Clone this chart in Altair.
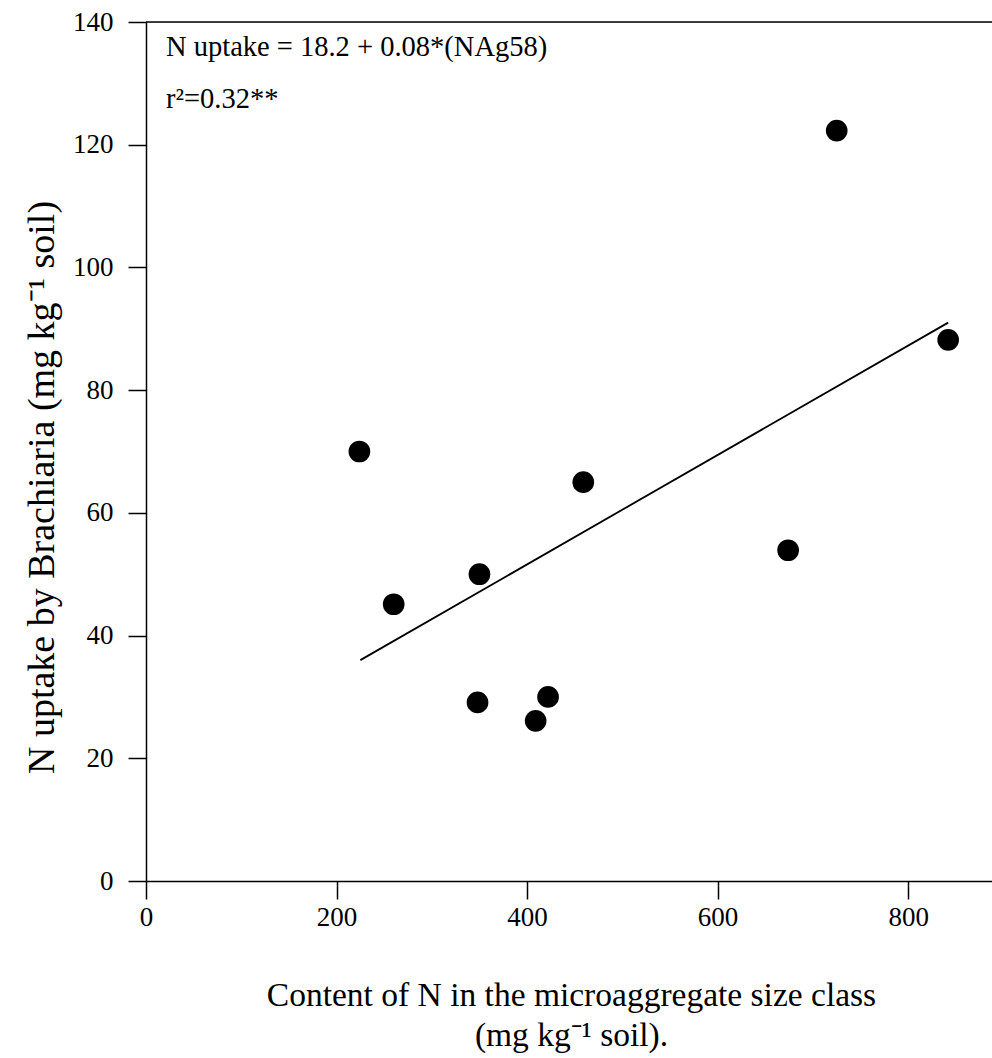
import altair as alt
import pandas as pd

# Data
n_content = [224, 260, 348, 350, 409, 422, 459, 674, 725, 842]
n_uptake = [70.0, 45.1, 29.1, 50.0, 26.1, 30.0, 65.0, 53.9, 122.3, 88.2]

fit_x = [225, 842]
fit_y = [36.0, 91.0]

x_ticks = [0, 200, 400, 600, 800]
y_ticks = [0, 20, 40, 60, 80, 100, 120, 140]

eq_text = "N uptake = 18.2 + 0.08*(NAg58)"
r2_text = "r²=0.32**"

W, H = 846, 859
FONT = "Liberation Serif"

pts = pd.DataFrame({"x": n_content, "y": n_uptake})
fit = pd.DataFrame({"x": fit_x, "y": fit_y})

xscale = alt.Scale(domain=[0, 888], nice=False, zero=False)
yscale = alt.Scale(domain=[0, 140], nice=False)

xaxis = alt.Axis(
    values=x_ticks, grid=False, tickSize=18, tickWidth=1.5, tickColor="black",
    domainColor="black", domainWidth=1.5, labelFont=FONT, labelFontSize=27,
    labelColor="black", labelPadding=5, labelFlush=False,
    title=["Content of N in the microaggregate size class", "(mg kg⁻¹ soil)."],
    titleFont=FONT, titleFontSize=33.5, titleFontWeight="normal", titleColor="black",
    titleX=425, titleY=98, titleBaseline="top", titleAlign="center",
    titleLineHeight=40,
)
yaxis = alt.Axis(
    values=y_ticks, grid=False, tickSize=18, tickWidth=1.5, tickColor="black",
    domainColor="black", domainWidth=1.5, labelFont=FONT, labelFontSize=27,
    labelColor="black", labelPadding=15, labelFlush=False,
    title="N uptake by Brachiaria (mg kg⁻¹ soil)",
    titleFont=FONT, titleFontSize=38, titleFontWeight="normal", titleColor="black",
    titleAngle=-90, titleX=-104, titleY=465, titleBaseline="middle", titleAlign="center",
)

points = alt.Chart(pts).mark_circle(size=470, color="black", opacity=1).encode(
    x=alt.X("x:Q", scale=xscale, axis=xaxis),
    y=alt.Y("y:Q", scale=yscale, axis=yaxis),
)

line = alt.Chart(fit).mark_line(color="black", strokeWidth=1.8).encode(
    x=alt.X("x:Q", scale=xscale),
    y=alt.Y("y:Q", scale=yscale),
)

top_border = alt.Chart(pd.DataFrame({"a": [0]})).mark_rule(color="black", strokeWidth=1.5).encode(
    x=alt.value(0), x2=alt.value(W), y=alt.value(0)
)

eq_chart = alt.Chart(pd.DataFrame({"t": [eq_text]})).mark_text(
    font=FONT, fontSize=28.5, color="black", align="left", baseline="alphabetic"
).encode(x=alt.value(20), y=alt.value(34), text="t:N")

r2_chart = alt.Chart(pd.DataFrame({"t": [r2_text]})).mark_text(
    font=FONT, fontSize=28.5, color="black", align="left", baseline="alphabetic"
).encode(x=alt.value(20), y=alt.value(86), text="t:N")

chart = alt.layer(line, points, top_border, eq_chart, r2_chart).properties(
    width=W, height=H,
    autosize=alt.AutoSizeParams(type="none"),
    padding={"left": 146, "top": 22, "right": 0, "bottom": 177},
).configure_view(stroke=None).configure(background="white")

chart.save("out.html", embed_options={"renderer": "svg", "actions": False})
